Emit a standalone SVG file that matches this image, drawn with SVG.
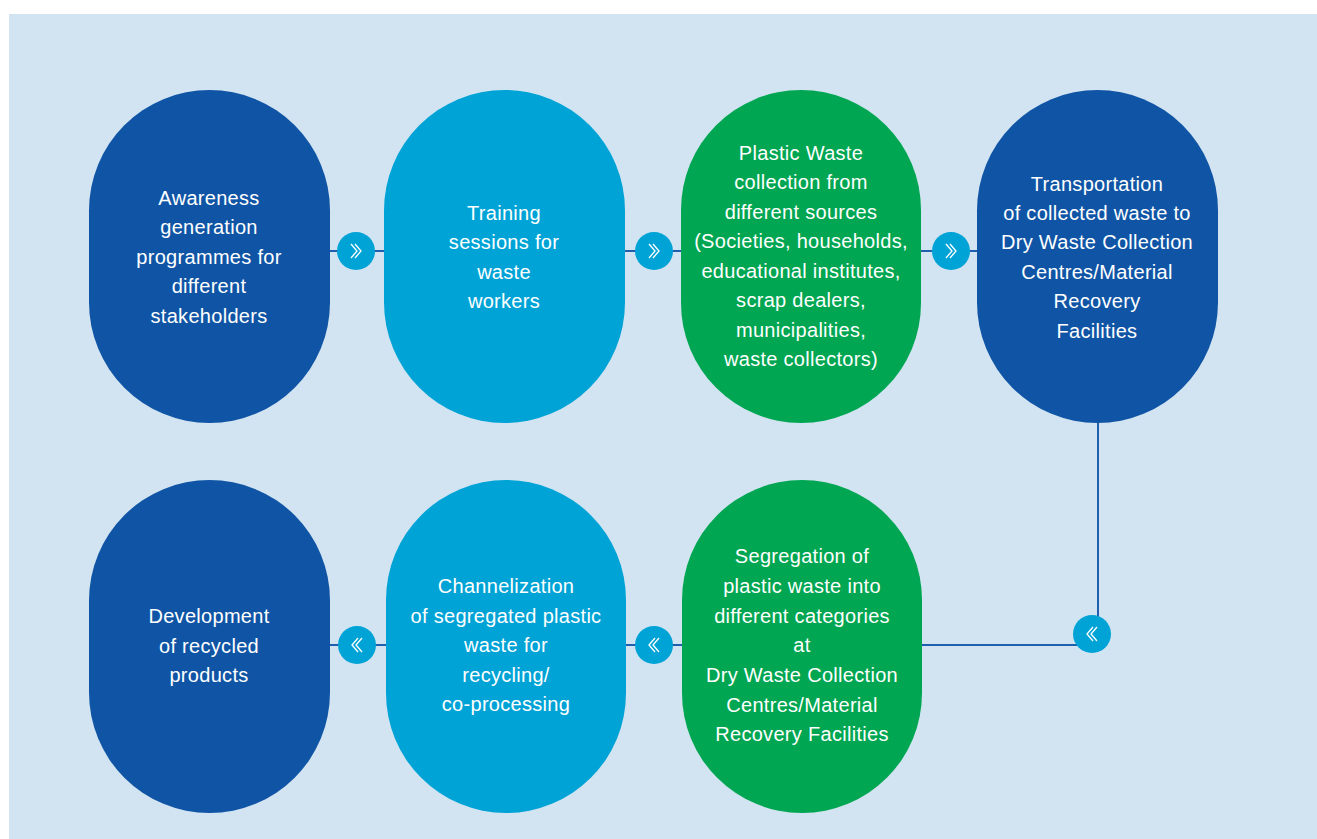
<svg xmlns="http://www.w3.org/2000/svg" width="1317" height="839" viewBox="0 0 1317 839">
<defs>
<style>
.bg{fill:#D2E4F2}
.dark{fill:#1055A5}
.light{fill:#00A3D6}
.green{fill:#00A651}
.line{stroke:#1E5FAE;stroke-width:2;fill:none}
.dot{fill:#00A3D6}
.chev{stroke:#FFFFFF;stroke-width:1.3;fill:none}
text{font-family:"Liberation Sans","DejaVu Sans",sans-serif;font-size:20px;letter-spacing:0.3px;fill:#FFFFFF;text-anchor:middle}
</style>
<g id="chevR"><path class="chev" d="M-5,-7 L1,0 L-5,7 M-1,-7 L5,0 L-1,7"/></g>
<g id="chevL"><path class="chev" d="M5,-7 L-1,0 L5,7 M1,-7 L-5,0 L1,7"/></g>
</defs>
<rect class="bg" x="9" y="14" width="1308" height="825"/>
<g id="connectors">
<line class="line" x1="330" y1="251" x2="384" y2="251"/>
<line class="line" x1="625" y1="251" x2="681" y2="251"/>
<line class="line" x1="921" y1="251" x2="977" y2="251"/>
<path class="line" d="M1098,423 L1098,620"/>
<line class="line" x1="922" y1="645" x2="1078" y2="645"/>
<line class="line" x1="626" y1="645" x2="682" y2="645"/>
<line class="line" x1="330" y1="645" x2="386" y2="645"/>
<circle class="dot" cx="356" cy="251" r="19"/>
<use href="#chevR" x="356" y="251"/>
<circle class="dot" cx="654" cy="251" r="19"/>
<use href="#chevR" x="654" y="251"/>
<circle class="dot" cx="951" cy="251" r="19"/>
<use href="#chevR" x="951" y="251"/>
<circle class="dot" cx="1092" cy="634" r="19"/>
<use href="#chevL" x="1092" y="634"/>
<circle class="dot" cx="654" cy="645" r="19"/>
<use href="#chevL" x="654" y="645"/>
<circle class="dot" cx="357" cy="645" r="19"/>
<use href="#chevL" x="357" y="645"/>
</g>
<g id="n1">
<rect class="dark" x="89" y="90" width="241" height="333" rx="120.5"/>
<text x="209" y="205">Awareness</text>
<text x="209" y="234">generation</text>
<text x="209" y="264">programmes for</text>
<text x="209" y="293">different</text>
<text x="209" y="323">stakeholders</text>
</g>
<g id="n2">
<rect class="light" x="384" y="90" width="241" height="333" rx="120.5"/>
<text x="504" y="220">Training</text>
<text x="504" y="249">sessions for</text>
<text x="504" y="279">waste</text>
<text x="504" y="308">workers</text>
</g>
<g id="n3">
<rect class="green" x="681" y="90" width="240" height="333" rx="120"/>
<text x="801" y="160">Plastic Waste</text>
<text x="801" y="189">collection from</text>
<text x="801" y="219">different sources</text>
<text x="801" y="248">(Societies, households,</text>
<text x="801" y="278">educational institutes,</text>
<text x="801" y="307">scrap dealers,</text>
<text x="801" y="337">municipalities,</text>
<text x="801" y="366">waste collectors)</text>
</g>
<g id="n4">
<rect class="dark" x="977" y="90" width="241" height="333" rx="120.5"/>
<text x="1097" y="191">Transportation</text>
<text x="1097" y="220">of collected waste to</text>
<text x="1097" y="249">Dry Waste Collection</text>
<text x="1097" y="279">Centres/Material</text>
<text x="1097" y="308">Recovery</text>
<text x="1097" y="338">Facilities</text>
</g>
<g id="n5">
<rect class="dark" x="89" y="480" width="241" height="333" rx="120.5"/>
<text x="209" y="623">Development</text>
<text x="209" y="653">of recycled</text>
<text x="209" y="682">products</text>
</g>
<g id="n6">
<rect class="light" x="386" y="480" width="240" height="333" rx="120"/>
<text x="506" y="593">Channelization</text>
<text x="506" y="623">of segregated plastic</text>
<text x="506" y="652">waste for</text>
<text x="506" y="682">recycling/</text>
<text x="506" y="711">co-processing</text>
</g>
<g id="n7">
<rect class="green" x="682" y="480" width="240" height="333" rx="120"/>
<text x="802" y="563">Segregation of</text>
<text x="802" y="593">plastic waste into</text>
<text x="802" y="623">different categories</text>
<text x="802" y="652">at</text>
<text x="802" y="682">Dry Waste Collection</text>
<text x="802" y="712">Centres/Material</text>
<text x="802" y="741">Recovery Facilities</text>
</g>
</svg>
